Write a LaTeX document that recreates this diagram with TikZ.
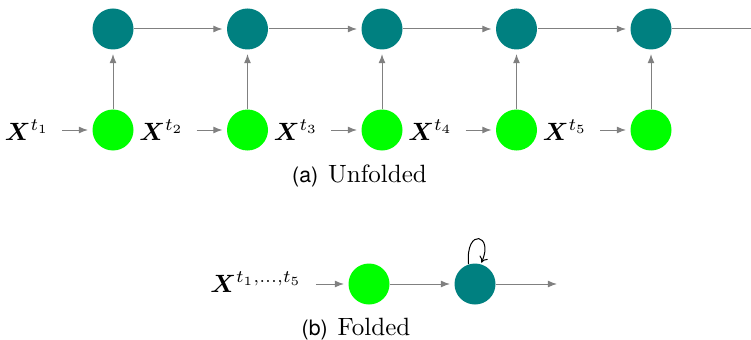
\documentclass[tikz,border=0pt]{standalone}
\usepackage{amsmath,bm}
\usepackage{fontspec}
\newfontfamily\capsans{TeX Gyre Heros}
\usetikzlibrary{arrows.meta}
\definecolor{tealc}{RGB}{0,128,128}
\definecolor{greenc}{RGB}{0,255,0}
\definecolor{arrgray}{RGB}{128,128,128}
\tikzset{
  hid/.style={circle,fill=tealc,minimum size=16.4pt,inner sep=0pt},
  inp/.style={circle,fill=greenc,minimum size=16.4pt,inner sep=0pt},
  lbl/.style={anchor=base,inner sep=0pt},
  arr/.style={draw=arrgray,line width=0.4pt,-{Latex[length=3.7pt,width=2.8pt]},shorten >=1.6pt},
  captext/.style={anchor=base,inner sep=0pt}
}
\begin{document}
\begin{tikzpicture}[x=0.4pt,y=-0.4pt]
\clip (0,0) rectangle (751,339);
% unfolded
\foreach \i/\cx/\lx in {1/113/27,2/247.5/161.5,3/382/296,4/516.5/430.5,5/651/565}{
  \node[hid] (h\i) at (\cx,29) {};
  \node[inp] (g\i) at (\cx,130) {};
  \node[lbl] (x\i) at (\lx,140) {$\bm{X}^{t_{\i}}$};
}
\foreach \i in {1,...,5}{
  \draw[arr,shorten <=5pt] (x\i.east |- g\i.west) -- (g\i.west);
  \draw[arr] (g\i) -- (h\i);
}
\foreach \i/\j in {1/2,2/3,3/4,4/5}{
  \draw[arr] (h\i) -- (h\j);
}
\coordinate (hend) at (790,29);
\draw[arr] (h5) -- (hend);
\node[captext] (capa) at (359.5,182) {{\capsans\fontsize{8.5}{10}\selectfont (a)}\hspace{4pt}Unfolded};
% folded
\node[lbl] (xb) at (256,292) {$\bm{X}^{t_1,\dots,t_5}$};
\node[inp] (gb) at (369,284) {};
\node[hid] (tb) at (475,284) {};
\coordinate (bend) at (557,284);
\draw[arr,shorten <=5.5pt] (xb.east |- gb.west) -- (gb.west);
\draw[arr] (gb) -- (tb);
\draw[arr,shorten >=0pt] (tb) -- (bend);
\draw[black,line width=0.4pt,-{To[length=2.4pt,width=3.6pt]},shorten >=0.5pt]
  (tb.108) .. controls +(95:15pt) and +(65:13pt) .. (tb.74);
\node[captext] (capb) at (356,335) {{\capsans\fontsize{8.5}{10}\selectfont (b)}\hspace{4pt}Folded};
\end{tikzpicture}
\end{document}
